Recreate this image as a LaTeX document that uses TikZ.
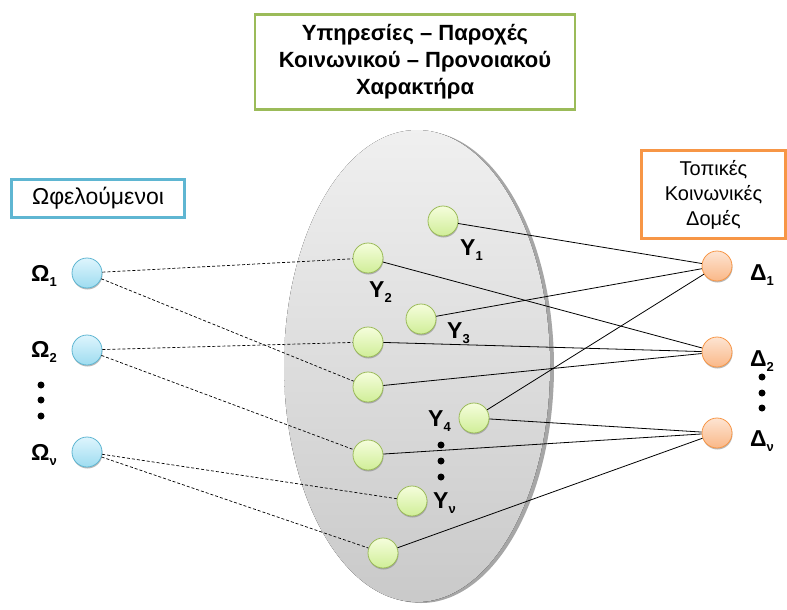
\documentclass[tikz,border=0pt]{standalone}
\usepackage{fontspec}
\setmainfont{Liberation Sans}
\usetikzlibrary{shadows}
\definecolor{bluerim}{HTML}{5FB6D2}
\definecolor{greenrim}{HTML}{9BBB59}
\definecolor{orangerim}{HTML}{F79646}
\newcommand{\sublab}[2]{\bfseries #1\raisebox{-5.5pt}{\fontsize{13}{13}\selectfont #2}}
\tikzset{
  ball/.style={circle, line width=0.8pt, minimum size=30pt, inner sep=0pt,
    drop shadow={shadow xshift=0.5pt, shadow yshift=-1.5pt, opacity=0.55}},
  benball/.style={ball, draw=bluerim, top color={rgb,255:red,222;green,245;blue,253}, bottom color={rgb,255:red,158;green,220;blue,240}},
  servball/.style={ball, draw=greenrim, top color={rgb,255:red,245;green,253;blue,220}, bottom color={rgb,255:red,208;green,238;blue,152}},
  unitball/.style={ball, draw=orangerim, top color={rgb,255:red,253;green,228;blue,210}, bottom color={rgb,255:red,250;green,184;blue,136}},
  lab/.style={anchor=base west, inner sep=0pt, font=\fontsize{23}{23}\selectfont},
  dot/.style={circle, fill=black, minimum size=7pt, inner sep=0pt},
  link/.style={line width=0.8pt},
  dlink/.style={line width=0.7pt, dash pattern=on 3pt off 2pt},
  headbox/.style={draw, line width=2.5pt, align=center, inner sep=0pt}
}
\begin{document}
\begin{tikzpicture}[x=1pt,y=-1pt]
\useasboundingbox (0,0) rectangle (787,610);
% services area
\fill[gray!70] (421,367) ellipse [x radius=133, y radius=236];
\fill[top color=gray!12, bottom color=gray!42] (417,366) ellipse [x radius=133, y radius=236];
% headings
\node[headbox, draw=greenrim, minimum width=320pt, minimum height=95pt,
  font=\fontsize{22}{27}\selectfont\bfseries] (title) at (415,62)
  {Υπηρεσίες – Παροχές\\Κοινωνικού – Προνοιακού\\Χαρακτήρα};
\node[headbox, draw=bluerim, minimum width=173pt, minimum height=38pt,
  font=\fontsize{23}{24}\selectfont] (bentitle) at (98,198.5) {Ωφελούμενοι};
\node[headbox, draw=orangerim, minimum width=144pt, minimum height=88pt,
  font=\fontsize{20}{25}\selectfont] (unittitle) at (713.5,194.5)
  {Τοπικές\\Κοινωνικές\\Δομές};
% beneficiaries
\node[benball] (o1) at (87,273) {};
\node[benball] (o2) at (87,350) {};
\node[benball] (ov) at (87,452) {};
\node[lab] (lo1) at (31,281) {\sublab{Ω}{1}};
\node[lab] (lo2) at (31,357) {\sublab{Ω}{2}};
\node[lab] (lov) at (31,460) {\sublab{Ω}{ν}};
\node[dot] (od1) at (41,385) {};
\node[dot] (od2) at (41,400) {};
\node[dot] (od3) at (41,416) {};
% services
\node[servball] (y1) at (443,221) {};
\node[servball] (y2) at (368,258) {};
\node[servball] (y3) at (421,319) {};
\node[servball] (ya) at (368,342) {};
\node[servball] (yb) at (368,387) {};
\node[servball] (y4) at (474,418) {};
\node[servball] (yc) at (368,455) {};
\node[servball] (yv) at (412,501) {};
\node[servball] (yd) at (383,553) {};
\node[lab] (ly1) at (460,255) {\sublab{Υ}{1}};
\node[lab] (ly2) at (369,297) {\sublab{Υ}{2}};
\node[lab] (ly3) at (447,338) {\sublab{Υ}{3}};
\node[lab] (ly4) at (428,426) {\sublab{Υ}{4}};
\node[lab] (lyv) at (433,508) {\sublab{Υ}{ν}};
\node[dot] (yd1) at (441,445) {};
\node[dot] (yd2) at (441,461) {};
\node[dot] (yd3) at (441,477) {};
% local units
\node[unitball] (d1) at (717,266) {};
\node[unitball] (d2) at (717,352) {};
\node[unitball] (dv) at (717,433) {};
\node[lab] (ld1) at (750,280) {\sublab{Δ}{1}};
\node[lab] (ld2) at (750,366) {\sublab{Δ}{2}};
\node[lab] (ldv) at (750,446) {\sublab{Δ}{ν}};
\node[dot] (dd1) at (762,377) {};
\node[dot] (dd2) at (762,393) {};
\node[dot] (dd3) at (762,408) {};
% beneficiary links
\draw[dlink] (o1) -- (y2);
\draw[dlink] (o1) -- (yb);
\draw[dlink] (o2) -- (ya);
\draw[dlink] (o2) -- (yc);
\draw[dlink] (ov) -- (yv);
\draw[dlink] (ov) -- (yd);
% unit links
\draw[link] (y1) -- (d1);
\draw[link] (y3) -- (d1);
\draw[link] (y4) -- (d1);
\draw[link] (y2) -- (d2);
\draw[link] (ya) -- (d2);
\draw[link] (yb) -- (d2);
\draw[link] (y4) -- (dv);
\draw[link] (yc) -- (dv);
\draw[link] (yd) -- (dv);
\end{tikzpicture}
\end{document}
